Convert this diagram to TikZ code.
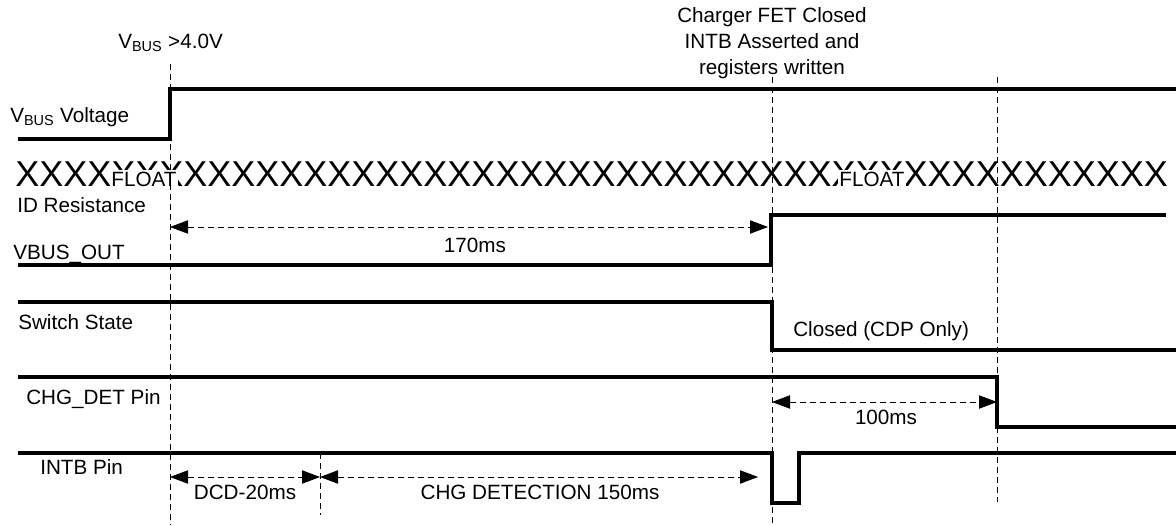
\documentclass[tikz,border=0pt]{standalone}
\usepackage{fontspec}
\setmainfont{Liberation Sans}
\usetikzlibrary{arrows.meta,calc}
\newcommand{\vbus}{V\textsubscript{BUS}}

\begin{document}
\begin{tikzpicture}[x=0.75pt,y=-0.75pt,
    sig/.style={line width=2.9pt,line join=miter},
    markline/.style={line width=0.6pt,dash pattern=on 4.5pt off 3pt},
    span/.style={markline,{Triangle[length=13.5pt,width=10pt]}-{Triangle[length=13.5pt,width=10pt]}},
    lbl/.style={font=\fontsize{15.5}{19.5}\selectfont,inner sep=0pt}]
    \useasboundingbox (0,0) rectangle (1176,525);
    % time marks
    \coordinate (T0) at (170,0); \coordinate (T1) at (320,0);
    \coordinate (T2) at (772,0); \coordinate (T3) at (997,0);
    \node[lbl,align=center] (fetlbl) at (772,43) {Charger FET Closed\\INTB Asserted and\\registers written};
    \node[lbl,anchor=west] (vbuslbl) at (118,43) {\vbus{} >4.0V};
    % signal names
    \node[lbl,anchor=west] (nvbus) at (10,117) {\vbus{} Voltage};
    \node[lbl,anchor=west] (nid) at (17,205) {ID Resistance};
    \node[lbl,anchor=west] (nout) at (13,254) {VBUS\_OUT};
    \node[lbl,anchor=west] (nsw) at (18,322) {Switch State};
    \node[lbl,anchor=west] (nchg) at (26,399) {CHG\_DET Pin};
    \node[lbl,anchor=west] (nint) at (40,467) {INTB Pin};
    % id row
    \node[inner sep=0pt,anchor=base west,font=\fontsize{27}{30}\selectfont] (idrow) at (15,186)
        {XXXXXXXXXXXXXXXXXXXXXXXXXXXXXXXXXXXXXXXXXXXXXXXX};
    \node[lbl,fill=white,inner sep=1pt,anchor=base] (float1) at (144,186) {FLOAT};
    \node[lbl,fill=white,inner sep=1pt,anchor=base] (float2) at (872,186) {FLOAT};
    % waveforms
    \draw[sig] (18,139) -| (T0 |- 0,89) -- (1176,89);
    \draw[sig] (18,265) -| (771,215) -- (1166,215);
    \draw[sig] (18,302) -| (T2 |- 0,350) -- (1176,350);
    \draw[sig] (18,377) -| (T3 |- 0,427) -- (1176,427);
    \draw[sig] (18,453) -| (T2 |- 0,503) -| (799,453) -- (1176,453);
    % dashed marks
    \draw[markline] (T0 |- 0,64) -- (T0 |- 0,525);
    \draw[markline] (T2 |- 0,77) -- (T2 |- 0,525);
    \draw[markline] (T3 |- 0,77) -- (T3 |- 0,502);
    \draw[markline] (T1 |- 0,453) -- (T1 |- 0,515);
    % spans
    \coordinate (s1a) at (T0 |- 0,227); \coordinate (s1b) at (768,227);
    \coordinate (s2a) at (T0 |- 0,477); \coordinate (s2b) at (T1 |- 0,477);
    \coordinate (s3b) at (758,477);
    \coordinate (s4a) at (T2 |- 0,402); \coordinate (s4b) at (T3 |- 0,402);
    \draw[span] (s1a) -- (s1b);
    \draw[span] (s2a) -- (s2b);
    \draw[span] (s2b) -- (s3b);
    \draw[span] (s4a) -- (s4b);
    \node[lbl] (t170) at (475,245) {170ms};
    \node[lbl] (t100) at (886,417) {100ms};
    \node[lbl] (tdcd) at (245,492) {DCD-20ms};
    \node[lbl] (tdet) at (540,492) {CHG DETECTION 150ms};
    \node[lbl,anchor=west] (closed) at (793,331) {Closed (CDP Only)};
\end{tikzpicture}
\end{document}
